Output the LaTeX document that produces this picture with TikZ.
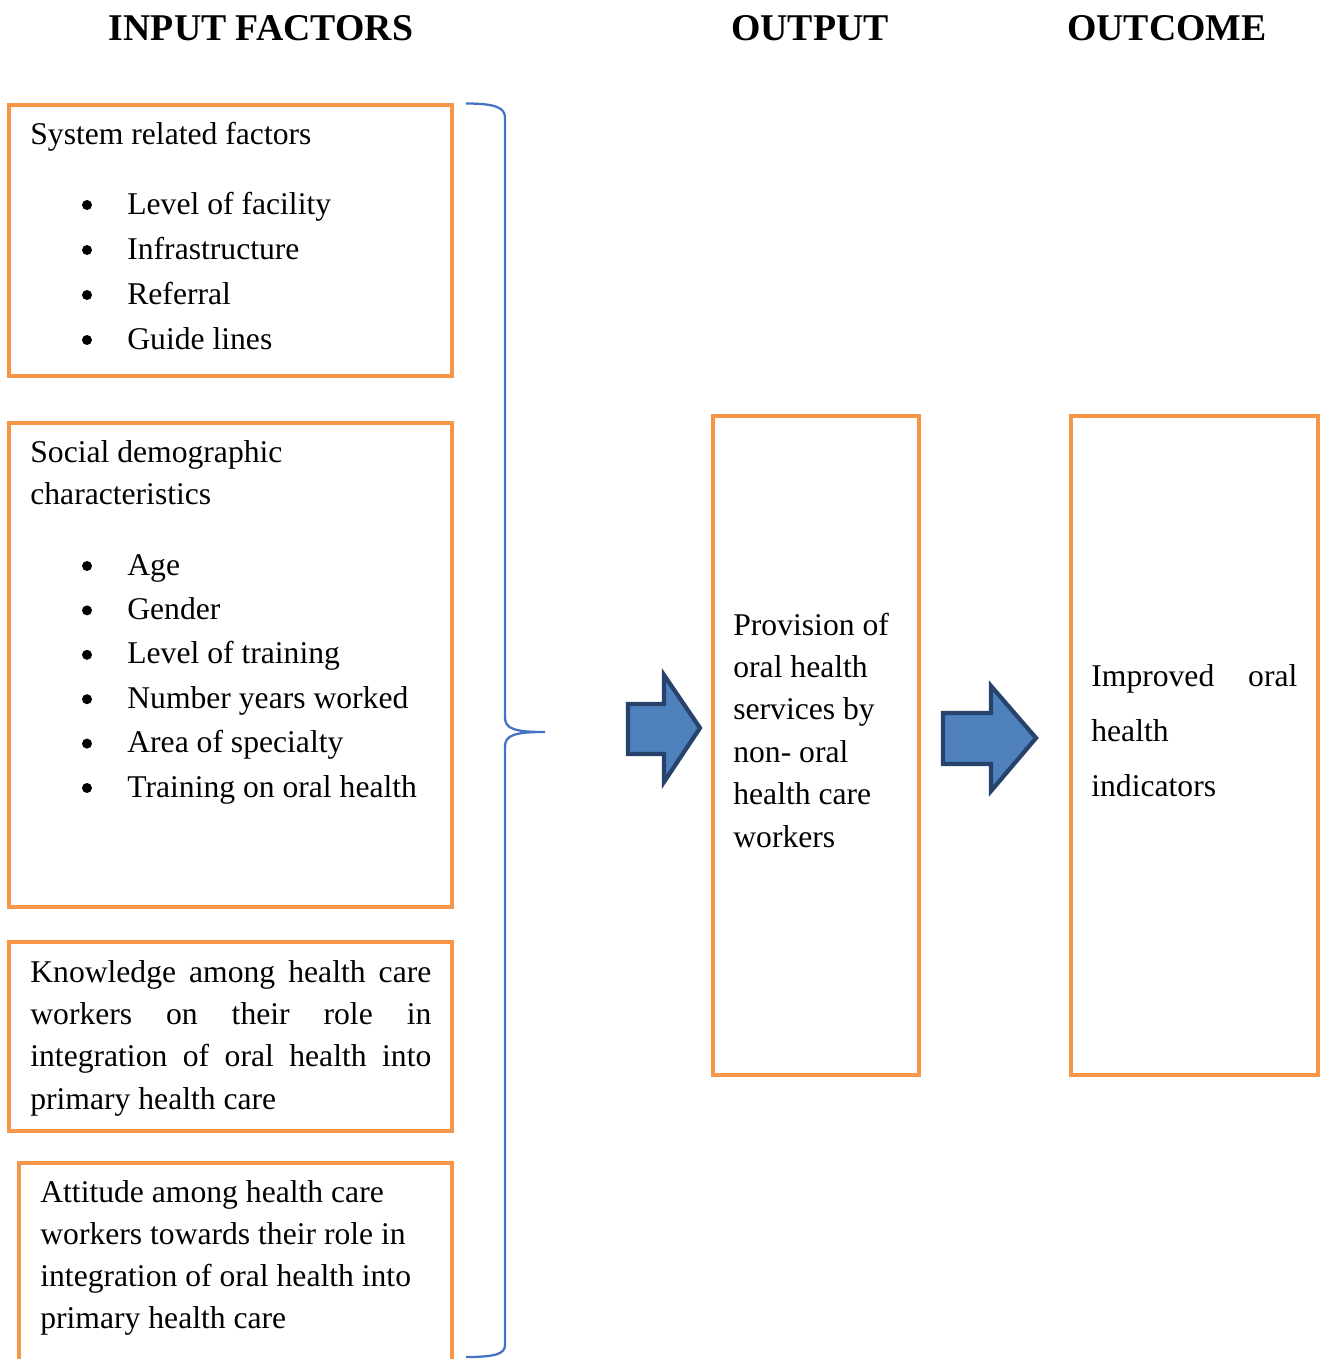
\documentclass[tikz,border=0pt]{standalone}
\usepackage{fontspec}
\setmainfont{Liberation Serif}
\usepackage{tikz}

\definecolor{boxorange}{HTML}{F79646}
\definecolor{braceblue}{HTML}{4472C4}
\definecolor{arrowfill}{HTML}{4F81BD}
\definecolor{arrowline}{HTML}{27436B}

\newcommand{\bodyfont}[1]{\fontsize{18}{#1}\selectfont}

\tikzstyle{factor} = [rectangle, draw=boxorange, line width=0.085cm, inner sep=0pt, minimum width=8.86cm]
\tikzstyle{result} = [rectangle, draw=boxorange, line width=0.085cm, inner sep=0pt, minimum height=13.18cm]
\tikzstyle{boxtext} = [anchor=base west, inner sep=0pt]
\tikzstyle{heading} = [anchor=base, inner sep=0pt, font=\fontsize{21.5}{25}\selectfont\bfseries]
\tikzstyle{blockarrow} = [fill=arrowfill, draw=arrowline, line width=0.085cm, line join=miter]
\tikzstyle{brace} = [draw=braceblue, line width=0.045cm]

\begin{document}
\begin{tikzpicture}
\useasboundingbox (0,0) rectangle (26.46,-27.18);

% headings
\node (hinput) [heading] at (5.22,-0.80) {INPUT FACTORS};
\node (houtput) [heading] at (16.20,-0.80) {OUTPUT};
\node (houtcome) [heading] at (23.34,-0.80) {OUTCOME};

% input factor boxes
\node (system) [factor, minimum height=5.42cm] at (4.61,-4.81) {};
\node (social) [factor, minimum height=9.68cm] at (4.61,-13.30) {};
\node (knowledge) [factor, minimum height=3.78cm] at (4.61,-20.73) {};
\node (attitude) [factor, minimum width=8.66cm, minimum height=4.34cm] at (4.71,-25.43) {};

\node (systemtitle) [boxtext, font=\bodyfont{0.848cm}] at (0.60,-2.88) {System related factors};
\node (systemlist) [boxtext, font=\bodyfont{0.9cm}] at (2.54,-4.28) {\parbox[t]{6cm}{%
  Level of facility\\Infrastructure\\Referral\\Guide lines}};
\foreach \y in {-4.10,-5.00,-5.90,-6.80}
  \fill (1.74,\y) circle (0.1);

\node (socialtitle) [boxtext, font=\bodyfont{0.84cm}] at (0.60,-9.24) {\parbox[t]{8cm}{%
  Social demographic\\characteristics}};
\node (sociallist) [boxtext, font=\bodyfont{0.888cm}] at (2.54,-11.50) {\parbox[t]{6.2cm}{%
  Age\\Gender\\Level of training\\Number years worked\\Area of specialty\\Training on oral health}};
\foreach \y in {-11.32,-12.208,-13.096,-13.984,-14.872,-15.76}
  \fill (1.74,\y) circle (0.1);

\node (knowledgetext) [boxtext, font=\bodyfont{0.848cm}] at (0.60,-19.64) {\parbox[t]{8.02cm}{%
  \hyphenpenalty=10000
  Knowledge among health care\linebreak
  workers on their role in\linebreak
  integration of oral health into\linebreak
  primary health care}};

\node (attitudetext) [boxtext, font=\bodyfont{0.846cm}] at (0.80,-24.04) {\parbox[t]{8cm}{%
  Attitude among health care\\
  workers towards their role in\\
  integration of oral health into\\
  primary health care}};

% brace
\draw[brace] (9.32,-2.07) .. controls (9.90,-2.07) and (10.10,-2.15) .. (10.10,-2.35)
  -- (10.10,-14.35) .. controls (10.10,-14.58) and (10.30,-14.64) .. (10.90,-14.64)
  .. controls (10.30,-14.64) and (10.10,-14.70) .. (10.10,-14.93)
  -- (10.10,-26.90) .. controls (10.10,-27.08) and (9.90,-27.14) .. (9.32,-27.14);

% block arrows
\draw[blockarrow] (12.56,-14.08) -- (13.28,-14.08) -- (13.28,-13.50) -- (14.00,-14.56)
  -- (13.28,-15.64) -- (13.28,-15.08) -- (12.56,-15.08) -- cycle;
\draw[blockarrow] (18.86,-14.26) -- (19.82,-14.26) -- (19.82,-13.72) -- (20.72,-14.76)
  -- (19.82,-15.82) -- (19.82,-15.28) -- (18.86,-15.28) -- cycle;

% output and outcome
\node (output) [result, minimum width=4.12cm] at (16.32,-14.91) {};
\node (outcome) [result, minimum width=4.94cm] at (23.89,-14.91) {};

\node (outputtext) [boxtext, font=\bodyfont{0.848cm}] at (14.66,-12.70) {\parbox[t]{4cm}{%
  Provision of\\oral health\\services by\\non- oral\\health care\\workers}};
\node (outcometext) [boxtext, font=\bodyfont{1.1cm}] at (21.82,-13.72) {\parbox[t]{4.12cm}{%
  Improved\hfill oral\\health\\indicators}};
\end{tikzpicture}
\end{document}
